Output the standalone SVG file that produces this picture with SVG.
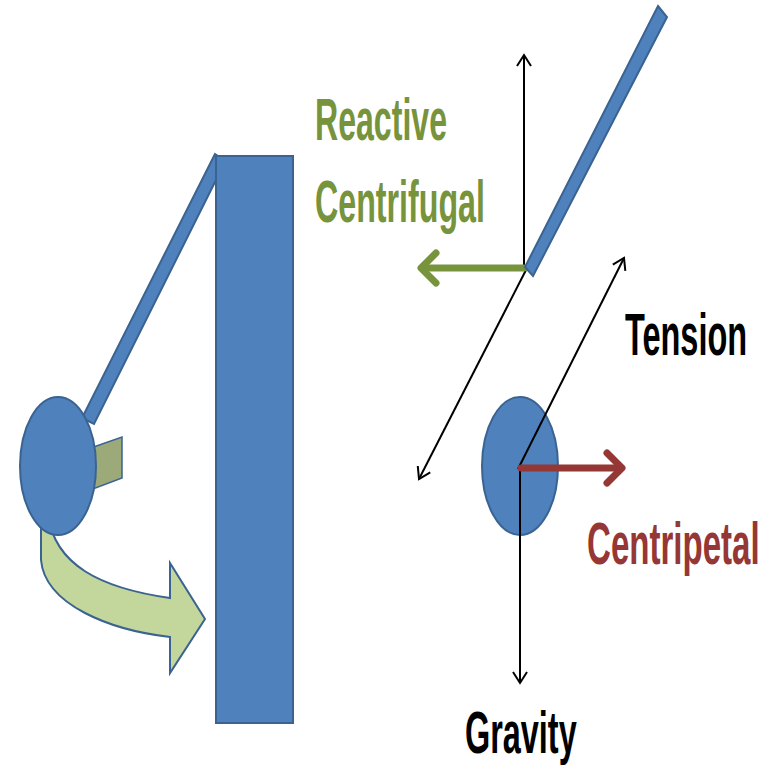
<svg xmlns="http://www.w3.org/2000/svg" width="776" height="767" viewBox="0 0 776 767">
  <style>
    .blue { fill: #4F81BD; stroke: #3A6391; stroke-width: 2; }
    .lbl { font-family: "Liberation Sans", Arial, sans-serif; font-weight: bold; font-size: 59px; }
    .thin { stroke: #000; stroke-width: 2; fill: none; }
  </style>
  <defs>
    <marker id="ah" markerUnits="userSpaceOnUse" markerWidth="20" markerHeight="20" refX="0" refY="0" viewBox="-12 -10 14 20" orient="auto">
      <path d="M -11 -7 L 0 0 L -11 7" fill="none" stroke="#000" stroke-width="2"/>
    </marker>
  </defs>
  <rect width="776" height="767" fill="#fff"/>

  <g id="left-scene">
    <path id="swing-arrow-back" d="M 85 450 L 122 437 L 122 478 L 85 492 Z" fill="#9BAA78" stroke="#3A6391" stroke-width="1.5"/>
    <path id="swing-arrow" d="M 41 515 L 41 560 C 45 605 110 630 170 637 L 170 673 L 205 619 L 170 563 L 170 598 C 100 588 55 565 48 515 Z" fill="#C3D69B" stroke="#3A6391" stroke-width="2"/>
    <polygon id="rod-left" class="blue" points="215,154 218,156 218,176 94,424 82,418"/>
    <ellipse id="ball-left" class="blue" cx="58" cy="466" rx="38" ry="69"/>
    <rect id="pole" class="blue" x="216" y="156" width="77" height="567"/>
  </g>

  <g id="right-scene">
    <ellipse id="ball-right" class="blue" cx="520" cy="466" rx="38" ry="69"/>
  </g>

  <g id="connectors">
    <line class="thin" x1="524" y1="271" x2="524" y2="55" marker-end="url(#ah)"/>
    <line class="thin" x1="526" y1="270" x2="419" y2="479" marker-end="url(#ah)"/>
    <line class="thin" x1="518" y1="469" x2="624" y2="258" marker-end="url(#ah)"/>
    <line class="thin" x1="520" y1="469" x2="520" y2="683" marker-end="url(#ah)"/>
    <g id="centrifugal-arrow" stroke="#77933C" stroke-width="7" fill="none" stroke-linecap="round" stroke-linejoin="round">
      <line x1="524" y1="268" x2="422" y2="268"/>
      <polyline points="436,253 421,268 436,283"/>
    </g>
    <g id="centripetal-arrow" stroke="#953735" stroke-width="7" fill="none" stroke-linecap="round" stroke-linejoin="round">
      <line x1="521" y1="468" x2="620" y2="468"/>
      <polyline points="607,453 622,468 607,483"/>
    </g>
  </g>

  <g id="rod-right">
    <polygon class="blue" points="658,6 667,17 533,276 525,267" stroke-width="1.5"/>
  </g>

  <g id="labels">
    <text class="lbl" transform="translate(315,140) scale(0.55,1)" fill="#77933C" textLength="240" lengthAdjust="spacingAndGlyphs">Reactive</text>
    <text class="lbl" transform="translate(315,222) scale(0.55,1)" fill="#77933C" textLength="309" lengthAdjust="spacingAndGlyphs">Centrifugal</text>
    <text class="lbl" transform="translate(625,355) scale(0.55,1)" fill="#000" textLength="222" lengthAdjust="spacingAndGlyphs">Tension</text>
    <text class="lbl" transform="translate(587,564) scale(0.55,1)" fill="#953735" textLength="314" lengthAdjust="spacingAndGlyphs">Centripetal</text>
    <text class="lbl" transform="translate(465,753) scale(0.55,1)" fill="#000" textLength="203" lengthAdjust="spacingAndGlyphs">Gravity</text>
  </g>
</svg>
